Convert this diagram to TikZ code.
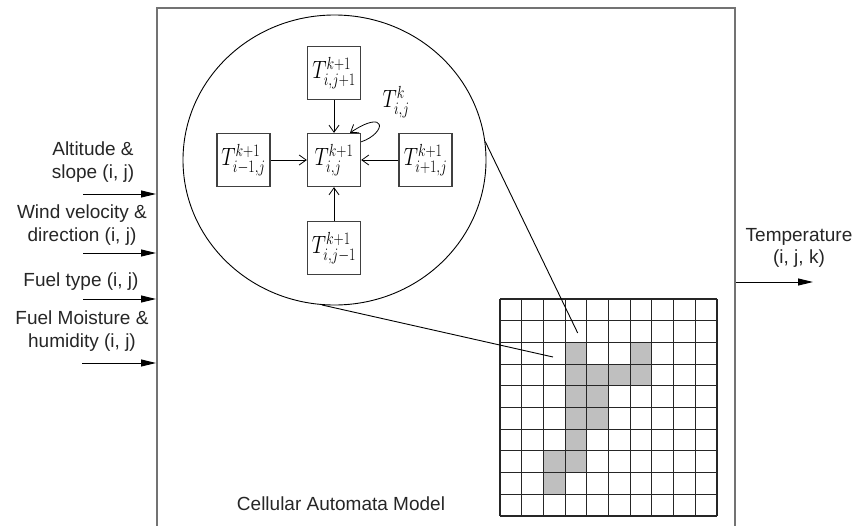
\RequirePackage{fix-cm}
\documentclass[tikz,border=0pt]{standalone}
\usepackage{fontspec}
\setmainfont{Liberation Sans}
\usetikzlibrary{arrows.meta,shapes.geometric}
% narrow math label for the temperature cells
\newcommand\tlab[1]{\scalebox{0.8}[1]{$#1$}}

\begin{document}
\begin{tikzpicture}[x=1pt,y=-1pt,
  lbl/.style={font=\fontsize{19}{22.5}\selectfont, text=black!85, align=center, inner sep=0pt},
  tbox/.style={draw=black!75, line width=1.3pt, minimum width=53pt, minimum height=53pt, inner sep=0pt, fill=white},
  tlbl/.style={font=\fontsize{25}{28}\selectfont},
  nb/.style={-{Straight Barb[length=7pt,width=10pt]}, line width=0.8pt},
  inarr/.style={-{Triangle[length=15pt,width=7pt]}, line width=1pt},
  gridline/.style={draw=black!85, line width=1.1pt},
  cell/.style={fill=gray!50},
]
\useasboundingbox (0,0) rectangle (859,525);
\clip (0,0) rectangle (859,525);

% model frame (runs off the bottom edge)
\node[draw=black!55, line width=2pt, minimum width=578pt, minimum height=540pt, inner sep=0pt] (model) at (446,278) {};

% neighbourhood detail
\node[ellipse, draw, line width=0.9pt, minimum width=303pt, minimum height=290pt, inner sep=0pt] (zoomc) at (334.5,160) {};
\node[tbox, tlbl] (c)   at (334,160)   {\tlab{T^{k+1}_{i,j}}};
\node[tbox, tlbl] (top) at (334,73)    {\tlab{T^{k+1}_{i,j+1}}};
\node[tbox, tlbl] (bot) at (334,248)   {\tlab{T^{k+1}_{i,j-1}}};
\node[tbox, tlbl] (lft) at (243.5,160) {\tlab{T^{k+1}_{i-1,j}}};
\node[tbox, tlbl] (rgt) at (425.5,160) {\tlab{T^{k+1}_{i+1,j}}};
\draw[nb] (top) -- (c);
\draw[nb] (bot) -- (c);
\draw[nb] (lft) -- (c);
\draw[nb] (rgt) -- (c);
\draw[nb] ([yshift=-9pt]c.north east) .. controls +(26,-9) and (387,108) .. ([xshift=16pt]c.north);
\node[tlbl] (tk) at (396,102) {\tlab{T^{k}_{i,j}}};

% cellular grid
\def\gx{500}
\def\gy{299}
\def\gc{21.7}
\foreach \cc/\rr in {3/2,6/2,3/3,4/3,5/3,6/3,3/4,4/4,3/5,4/5,3/6,2/7,3/7,2/8}
  \fill[cell] (\gx+\cc*\gc, \gy+\rr*\gc) rectangle ++(\gc,\gc);
\foreach \i in {0,...,10} {
  \draw[gridline] (\gx+\i*\gc, \gy) -- ++(0,10*\gc);
  \draw[gridline] (\gx, \gy+\i*\gc) -- ++(10*\gc,0);
}
\coordinate (cellA) at (577.7,333);
\coordinate (cellB) at (553,357);
\draw[line width=0.9pt] (zoomc.7.7) -- (cellA);
\draw[line width=0.9pt] (zoomc.-95) -- (cellB);

% inputs
\node[lbl] (in1) at (93,162) {Altitude \&\\slope (i, j)};
\node[lbl] (in2) at (82,225) {Wind velocity \&\\direction (i, j)};
\node[lbl] (in3) at (81,282) {Fuel type (i, j)};
\node[lbl] (in4) at (82,331) {Fuel Moisture \&\\humidity (i, j)};
\coordinate (a1) at (83,194);
\coordinate (a2) at (83,253);
\coordinate (a3) at (83,299);
\coordinate (a4) at (82,363);
\draw[inarr] (a1) -- (a1 -| model.west);
\draw[inarr] (a2) -- (a2 -| model.west);
\draw[inarr] (a3) -- (a3 -| model.west);
\draw[inarr] (a4) -- (a4 -| model.west);

% output
\node[lbl] (out) at (799,248) {Temperature\\(i, j, k)};
\coordinate (tout) at (813,282);
\draw[inarr] (tout -| model.east) -- (tout);

\node[lbl] (title) at (341,504) {Cellular Automata Model};
\end{tikzpicture}
\end{document}
